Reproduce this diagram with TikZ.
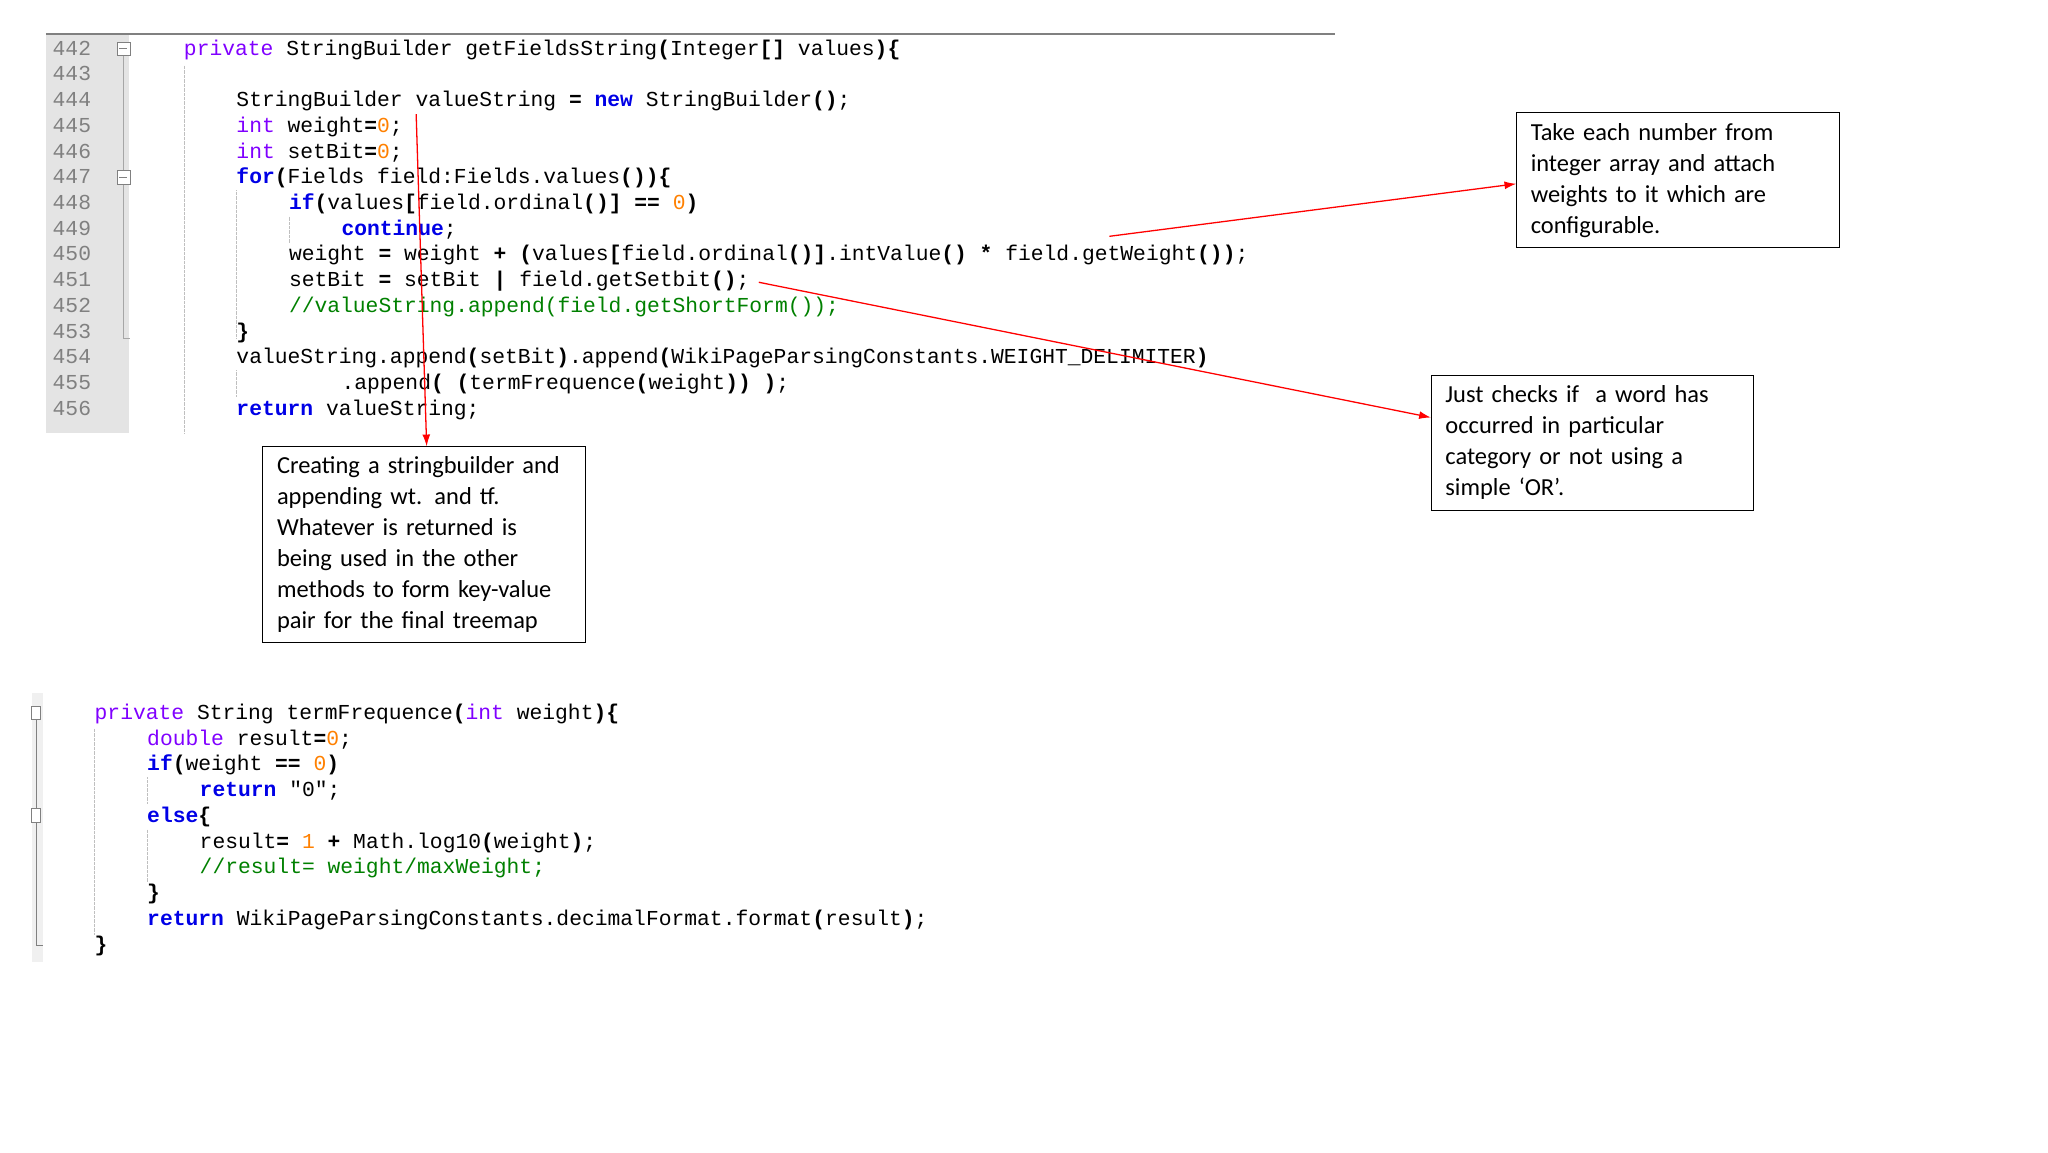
\documentclass[tikz,border=0pt]{standalone}
\usepackage{fontspec}
\setmainfont{Carlito}
\setmonofont{Liberation Mono}
\usetikzlibrary{arrows.meta}
\definecolor{kwc}{RGB}{0,0,230}
\definecolor{tyc}{RGB}{128,0,255}
\definecolor{nmc}{RGB}{255,128,0}
\definecolor{cmc}{RGB}{0,128,0}
\definecolor{lnc}{RGB}{128,128,128}
\definecolor{gut}{RGB}{228,228,228}
\newcommand{\kw}[1]{\textcolor{kwc}{\bfseries #1}}
\newcommand{\ty}[1]{\textcolor{tyc}{#1}}
\newcommand{\nm}[1]{\textcolor{nmc}{#1}}
\newcommand{\cmt}[1]{\textcolor{cmc}{#1}}
\newcommand{\op}[1]{{\bfseries #1}}
\begin{document}
\begin{tikzpicture}[x=0.05cm,y=-0.05cm,
  code/.style={anchor=base west,inner sep=0pt,font=\ttfamily\fontsize{23.1}{28}\selectfont},
  lnum/.style={anchor=base west,inner sep=0pt,text=lnc,font=\ttfamily\fontsize{23.1}{28}\selectfont},
  note/.style={draw,line width=1pt,anchor=north west,outer sep=0pt,align=left,inner xsep=0.55cm,inner ysep=0.4cm,font=\fontsize{26.5}{33.5}\selectfont},
  redarrow/.style={draw=red,line width=1.4pt,-{Latex[length=0.45cm,width=0.3cm]}}]
\useasboundingbox (0,0) rectangle (1560,877.5);
% first code block
\fill[gut] (35,27) rectangle (98,330);
\draw[gray,line width=1.6pt] (35,26) -- (1017,26);
\draw[gray!70,line width=0.8pt] (94,42) -- (94,258) -- (99,258);
\foreach \yy in {37,135}{\draw[gray,fill=white,line width=0.6pt] (89,\yy-5) rectangle (99,\yy+5); \draw[gray] (91,\yy) -- (97,\yy);}
\draw[gray!50,densely dotted] (140,50) -- (140,330);
\draw[gray!50,densely dotted] (180,145) -- (180,258);
\draw[gray!50,densely dotted] (220,165) -- (220,185);
\draw[gray!50,densely dotted] (180,282) -- (180,302);
\foreach \n [count=\i from 0] in {442,...,456}{
  \node[lnum] (ln\n) at (40,{42+19.6*\i}) {\n};}
\node[code] (c442) at (140,42) {\ty{private} StringBuilder getFieldsString\op{(}Integer\op{[]} values\op{)\{}};
\node[code] (c444) at (180,81.2) {StringBuilder valueString \op{=} \kw{new} StringBuilder\op{()};};
\node[code] (c445) at (180,100.8) {\ty{int} weight\op{=}\nm{0};};
\node[code] (c446) at (180,120.4) {\ty{int} setBit\op{=}\nm{0};};
\node[code] (c447) at (180,140) {\kw{for}\op{(}Fields field:Fields.values\op{())\{}};
\node[code] (c448) at (220,159.6) {\kw{if}\op{(}values\op{[}field.ordinal\op{()]} \op{==} \nm{0}\op{)}};
\node[code] (c449) at (260,179.2) {\kw{continue};};
\node[code] (c450) at (220,198.8) {weight \op{=} weight \op{+} \op{(}values\op{[}field.ordinal\op{()]}.intValue\op{()} \op{*} field.getWeight\op{())};};
\node[code] (c451) at (220,218.4) {setBit \op{=} setBit \op{|} field.getSetbit\op{()};};
\node[code] (c452) at (220,238) {\cmt{//valueString.append(field.getShortForm());}};
\node[code] (c453) at (180,257.6) {\op{\}}};
\node[code] (c454) at (180,277.2) {valueString.append\op{(}setBit\op{)}.append\op{(}WikiPageParsingConstants.WEIGHT\_DELIMITER\op{)}};
\node[code] (c455) at (260,296.8) {.append\op{(} \op{(}termFrequence\op{(}weight\op{))} \op{)};};
\node[code] (c456) at (180,316.4) {\kw{return} valueString;};
% second code block
\fill[gray!12] (24,528) rectangle (33,733);
\draw[gray,line width=0.8pt] (28,543) -- (28,720) -- (33,720);
\foreach \yy in {543,621}{\draw[gray,fill=white,line width=0.6pt] (24,\yy-5) rectangle (31,\yy+5);}
\draw[gray!50,densely dotted] (72,555) -- (72,712);
\draw[gray!50,densely dotted] (112,592) -- (112,612);
\draw[gray!50,densely dotted] (112,632) -- (112,672);
\node[code] (d1) at (72,548) {\ty{private} String termFrequence\op{(}\ty{int} weight\op{)\{}};
\node[code] (d2) at (112,567.6) {\ty{double} result\op{=}\nm{0};};
\node[code] (d3) at (112,587.2) {\kw{if}\op{(}weight \op{==} \nm{0}\op{)}};
\node[code] (d4) at (152,606.8) {\kw{return} "0";};
\node[code] (d5) at (112,626.4) {\kw{else}\op{\{}};
\node[code] (d6) at (152,646) {result\op{=} \nm{1} \op{+} Math.log10\op{(}weight\op{)};};
\node[code] (d7) at (152,665.6) {\cmt{//result= weight/maxWeight;}};
\node[code] (d8) at (112,685.2) {\op{\}}};
\node[code] (d9) at (112,704.8) {\kw{return} WikiPageParsingConstants.decimalFormat.format\op{(}result\op{)};};
\node[code] (d10) at (72,724.4) {\op{\}}};
% notes
\node[note,text width=11.2cm] (n1) at (1155,86) {Take each number from\\integer array and attach\\weights to it which are\\configurable.};
\node[note,text width=11.2cm] (n2) at (1090,286) {Just checks if~ a word has\\occurred in particular\\category or not using a\\simple ‘OR’.};
\node[note,text width=11.2cm] (n3) at (200,340) {Creating a stringbuilder and\\appending wt. and tf.\\Whatever is returned is\\being used in the other\\methods to form key-value\\pair for the final treemap};
% arrows
\coordinate (s3) at (317,87);
\coordinate (s1) at (845,180);
\coordinate (s2) at (578,215);
\draw[redarrow] (s3) -- (n3.north -| 325,0);
\draw[redarrow] (s1) -- (n1.west |- 0,140);
\draw[redarrow] (s2) -- (n2.west |- 0,318);
\end{tikzpicture}
\end{document}
